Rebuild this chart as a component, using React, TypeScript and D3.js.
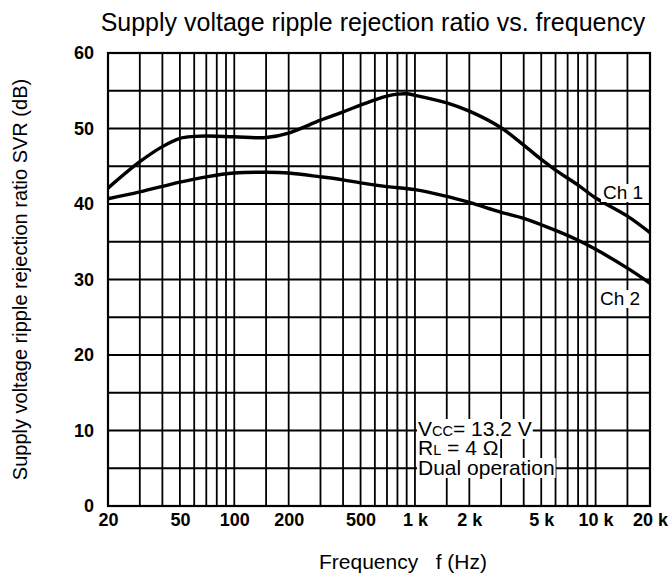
import { useEffect, useRef } from 'react';
import * as d3 from 'd3';

// Ch 1 curve (Hz, dB)
const FREQ_CH1 = [20, 30, 40, 50, 60, 70, 100, 150, 200, 300, 400, 500, 600, 700, 800, 900, 1000, 1500, 2000, 3000, 4000, 5000, 6000, 8000, 10000, 15000, 20000];
const SVR_CH1 = [42.1, 45.6, 47.6, 48.7, 48.95, 49.0, 48.9, 48.8, 49.4, 51.1, 52.2, 53.1, 53.8, 54.3, 54.55, 54.6, 54.4, 53.4, 52.3, 50.1, 47.8, 45.9, 44.5, 42.5, 40.8, 38.4, 36.2];

// Ch 2 curve
const FREQ_CH2 = [20, 30, 50, 70, 100, 150, 200, 300, 400, 500, 700, 1000, 1500, 2000, 3000, 4000, 6000, 8000, 10000, 15000, 20000];
const SVR_CH2 = [40.7, 41.6, 42.9, 43.6, 44.1, 44.2, 44.1, 43.6, 43.2, 42.8, 42.3, 41.9, 41.0, 40.2, 38.9, 38.1, 36.5, 35.2, 34.0, 31.5, 29.5];

const X_TICKS = [20, 50, 100, 200, 500, 1000, 2000, 5000, 10000, 20000];
const X_TICK_LABELS = ['20', '50', '100', '200', '500', '1 k', '2 k', '5 k', '10 k', '20 k'];
const Y_TICKS = [0, 10, 20, 30, 40, 50, 60];

// grid: 1, 1.5, 2 ... 9 in each decade, every 5 dB
const GRID_MULT = [1, 1.5, 2, 3, 4, 5, 6, 7, 8, 9];
const GRID_DECADES = [10, 100, 1000, 10000];
const GRID_DB = [5, 10, 15, 20, 25, 30, 35, 40, 45, 50, 55];

const W = 671, H = 577;
const FONT = "'Liberation Sans', Arial, Helvetica, sans-serif";

export default function App() {
  const svgRef = useRef<SVGSVGElement>(null);

  useEffect(() => {
    const svg = d3.select(svgRef.current);
    svg.selectAll('*').remove();

    const x = d3.scaleLog().domain([20, 20000]).range([108, 650]);
    const y = d3.scaleLinear().domain([0, 60]).range([506, 53]);
    const [x0, x1] = x.range();
    const [y0, y1] = y.range();

    const gridF = GRID_DECADES.flatMap(d => GRID_MULT.map(m => m * d))
      .filter(f => f > 20 && f < 20000);

    const grid = svg.append('g').attr('stroke', '#000').attr('stroke-width', 1.8);
    grid.selectAll('line.v').data(gridF).enter().append('line')
      .attr('x1', d => x(d)).attr('x2', d => x(d))
      .attr('y1', y1).attr('y2', y0);
    grid.selectAll('line.h').data(GRID_DB).enter().append('line')
      .attr('x1', x0).attr('x2', x1)
      .attr('y1', d => y(d)).attr('y2', d => y(d));

    svg.append('rect')
      .attr('x', x0).attr('y', y1)
      .attr('width', x1 - x0).attr('height', y0 - y1)
      .attr('fill', 'none').attr('stroke', '#000').attr('stroke-width', 2.2);

    // curves
    const line = d3.line<[number, number]>()
      .x(d => x(d[0])).y(d => y(d[1]))
      .curve(d3.curveCatmullRom.alpha(0.5));
    const series = [
      FREQ_CH1.map((f, i) => [f, SVR_CH1[i]] as [number, number]),
      FREQ_CH2.map((f, i) => [f, SVR_CH2[i]] as [number, number]),
    ];
    svg.selectAll('path.curve').data(series).enter().append('path')
      .attr('class', 'curve')
      .attr('d', d => line(d))
      .attr('fill', 'none').attr('stroke', '#000').attr('stroke-width', 3.4)
      .attr('stroke-linejoin', 'round');

    // tick labels
    const xAxis = svg.append('g')
      .attr('transform', `translate(0,${y0})`)
      .call(d3.axisBottom(x).tickValues(X_TICKS)
        .tickFormat((d, i) => X_TICK_LABELS[i]).tickSize(0).tickPadding(7));
    xAxis.select('.domain').remove();
    xAxis.selectAll('text')
      .attr('dy', '0.71em')
      .style('font-family', FONT).style('font-size', '18px')
      .style('font-weight', 'bold').style('fill', '#000');

    const yAxis = svg.append('g')
      .attr('transform', `translate(${x0},0)`)
      .call(d3.axisLeft(y).tickValues(Y_TICKS).tickSize(0).tickPadding(14));
    yAxis.select('.domain').remove();
    yAxis.selectAll('text')
      .style('font-family', FONT).style('font-size', '18px')
      .style('font-weight', 'bold').style('fill', '#000');

    // titles
    svg.append('text')
      .attr('x', 373).attr('y', 31)
      .attr('text-anchor', 'middle')
      .style('font-family', FONT).style('font-size', '25px')
      .text('Supply voltage ripple rejection ratio vs. frequency');

    svg.append('text')
      .attr('x', 403).attr('y', 569)
      .attr('text-anchor', 'middle')
      .style('font-family', FONT).style('font-size', '21px')
      .style('white-space', 'pre')
      .text('Frequency   f (Hz)');

    svg.append('text')
      .attr('transform', `translate(27,${(y0 + y1) / 2}) rotate(-90)`)
      .attr('text-anchor', 'middle')
      .style('font-family', FONT).style('font-size', '20px')
      .text('Supply voltage ripple rejection ratio SVR (dB)');

    // labels with white backing that breaks the grid
    const boxed = (tx: number, ty: number, parts: [string, number][], pad = 1) => {
      const g = svg.append('g');
      const bg = g.append('rect').attr('fill', '#fff');
      const t = g.append('text')
        .attr('x', tx).attr('y', ty)
        .style('font-family', FONT).style('fill', '#000');
      parts.forEach(([s, size]) => {
        t.append('tspan').style('font-size', `${size}px`).style('white-space', 'pre').text(s);
      });
      const b = (t.node() as SVGTextElement).getBBox();
      bg.attr('x', b.x - pad).attr('y', b.y + 2)
        .attr('width', b.width + pad * 2).attr('height', b.height - 3);
    };

    boxed(418, 436, [['V', 21], ['CC', 14.5], ['= 13.2 V', 21]]);
    boxed(418, 455, [['R', 21], ['L', 14.5], [' = 4 Ω', 21]]);
    boxed(418, 475, [['Dual operation', 21]]);

    boxed(603, 199, [['Ch 1', 19]], 2);
    boxed(600, 305, [['Ch 2', 19]], 2);
  }, []);

  return (
    <svg
      ref={svgRef}
      width={W}
      height={H}
      style={{ position: 'absolute', left: 0, top: 0, background: '#fff' }}
    />
  );
}
